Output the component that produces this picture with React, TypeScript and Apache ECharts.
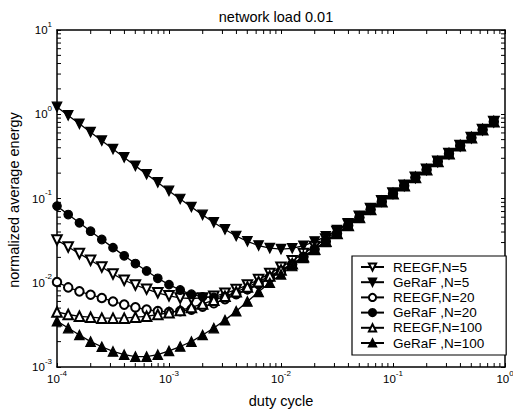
import React, { useEffect, useRef } from 'react';
import * as echarts from 'echarts';

const FONT = '"Liberation Sans", Arial, Helvetica, sans-serif';

// duty cycle sample points (10 per decade)
const dutyCycle = [
  1.0e-4, 1.259e-4, 1.585e-4, 1.995e-4, 2.512e-4, 3.162e-4, 3.981e-4, 5.012e-4, 6.31e-4, 7.943e-4,
  1.0e-3, 1.259e-3, 1.585e-3, 1.995e-3, 2.512e-3, 3.162e-3, 3.981e-3, 5.012e-3, 6.31e-3, 7.943e-3,
  1.0e-2, 1.259e-2, 1.585e-2, 1.995e-2, 2.512e-2, 3.162e-2, 3.981e-2, 5.012e-2, 6.31e-2, 7.943e-2,
  0.1, 0.1259, 0.1585, 0.1995, 0.2512, 0.3162, 0.3981, 0.5012, 0.631, 0.7943,
];

const reegf5 = [
  0.0322, 0.0266, 0.0222, 0.0185, 0.0154, 0.0127, 0.0107, 0.0094, 0.0084, 0.0076,
  0.0070, 0.0066, 0.0065, 0.0066, 0.0069, 0.0075, 0.0083, 0.0094, 0.0109, 0.0129,
  0.0153, 0.0183, 0.0222, 0.0270, 0.033, 0.0405, 0.0498, 0.0614, 0.0759, 0.0939,
  0.116, 0.144, 0.179, 0.222, 0.276, 0.342, 0.426, 0.529, 0.658, 0.819,
];
const geraf5 = [
  1.22, 0.969, 0.77, 0.612, 0.486, 0.386, 0.307, 0.244, 0.194, 0.155,
  0.123, 0.0987, 0.0792, 0.0639, 0.052, 0.0429, 0.0359, 0.031, 0.0276, 0.0257,
  0.025, 0.0256, 0.0275, 0.0308, 0.0356, 0.0421, 0.0506, 0.0615, 0.0755, 0.0931,
  0.115, 0.143, 0.178, 0.221, 0.274, 0.34, 0.424, 0.527, 0.656, 0.817,
];
const reegf20 = [
  0.0102, 0.0088, 0.0079, 0.0072, 0.0066, 0.006, 0.0055, 0.0051, 0.0048, 0.0046,
  0.0045, 0.0046, 0.0048, 0.0052, 0.0057, 0.0064, 0.0073, 0.0084, 0.0098, 0.0116,
  0.0138, 0.0166, 0.0202, 0.0249, 0.0309, 0.0384, 0.0477, 0.0593, 0.0738, 0.0918,
  0.114, 0.142, 0.177, 0.22, 0.274, 0.34, 0.424, 0.527, 0.656, 0.817,
];
const geraf20 = [
  0.0812, 0.0645, 0.0514, 0.0409, 0.0326, 0.0261, 0.0209, 0.0169, 0.0138, 0.0113,
  0.0095, 0.0082, 0.0073, 0.0068, 0.0067, 0.0069, 0.0074, 0.0083, 0.0095, 0.0113,
  0.0136, 0.0165, 0.0203, 0.0251, 0.031, 0.0385, 0.0477, 0.0593, 0.0737, 0.0917,
  0.114, 0.142, 0.177, 0.22, 0.274, 0.34, 0.424, 0.527, 0.656, 0.817,
];
const reegf100 = [
  0.0045, 0.0042, 0.004, 0.0039, 0.0038, 0.0038, 0.0038, 0.0039, 0.004, 0.0042,
  0.0044, 0.0047, 0.0051, 0.0056, 0.0062, 0.0069, 0.0078, 0.0089, 0.0103, 0.012,
  0.0142, 0.0168, 0.0203, 0.025, 0.031, 0.0385, 0.0478, 0.0594, 0.0738, 0.0918,
  0.114, 0.142, 0.177, 0.22, 0.274, 0.34, 0.424, 0.527, 0.656, 0.817,
];
const geraf100 = [
  0.0035, 0.0029, 0.0024, 0.002, 0.00174, 0.00153, 0.0014, 0.00133, 0.00133, 0.0014,
  0.00155, 0.00175, 0.002, 0.0024, 0.0029, 0.0036, 0.0046, 0.006, 0.0078, 0.01,
  0.0126, 0.0158, 0.0197, 0.0246, 0.0306, 0.0382, 0.0475, 0.0591, 0.0736, 0.0916,
  0.114, 0.142, 0.177, 0.22, 0.274, 0.34, 0.424, 0.527, 0.656, 0.817,
];

const seriesNames = ['REEGF,N=5', 'GeRaF ,N=5', 'REEGF,N=20', 'GeRaF ,N=20', 'REEGF,N=100', 'GeRaF ,N=100'];
const titleText = 'network load 0.01';
const xName = 'duty cycle';
const yName = 'normalized average energy';

const X_MIN = 1e-4, X_MAX = 1, Y_MIN = 1e-3, Y_MAX = 10;

const xMinor: number[] = [];
for (let e = -4; e < 0; e++) for (let m = 2; m <= 9; m++) xMinor.push(m * Math.pow(10, e));
const yMinor: number[] = [];
for (let e = -3; e < 1; e++) for (let m = 2; m <= 9; m++) yMinor.push(m * Math.pow(10, e));

const TICK = 4;

export default function App() {
  const ref = useRef<HTMLDivElement>(null);
  useEffect(() => {
    const chart = echarts.init(ref.current as HTMLDivElement, null, { renderer: 'svg' });

    const supFmt = (v: number) => {
      const e = Math.round(Math.log10(v));
      return `{b|10}{s|${e}}`;
    };
    const rich = {
      b: { fontFamily: FONT, fontSize: 11.5, color: '#000', lineHeight: 20 },
      s: { fontFamily: FONT, fontSize: 8, color: '#000', verticalAlign: 'top' },
    };
    const axisLine = { show: true, onZero: false, lineStyle: { color: '#000', width: 1.5 } };
    const axisTick = { show: true, inside: true, length: TICK, lineStyle: { color: '#000', width: 1 } };

    const mk = (name: string, vals: number[], symbol: string, rotate: number, size: number) => ({
      type: 'line',
      name,
      data: dutyCycle.map((d, i) => [d, vals[i]]),
      symbol,
      symbolSize: size,
      symbolRotate: rotate,
      showSymbol: true,
      showAllSymbol: true,
      lineStyle: { color: '#000', width: 1.3 },
      itemStyle: { color: '#000', borderColor: '#000', borderWidth: 1.2 },
      emphasis: { disabled: true },
      silent: true,
    });

    const tickLine = (x1: number, y1: number, x2: number, y2: number) => ({
      type: 'line',
      shape: { x1, y1, x2, y2 },
      style: { stroke: '#000', lineWidth: 1 },
    });

    const option: any = {
      animation: false,
      backgroundColor: '#fff',
      grid: { left: 57, top: 30, width: 448, height: 337, containLabel: false, outerBoundsMode: 'none' },
      xAxis: [
        {
          type: 'log', logBase: 10, min: X_MIN, max: X_MAX, position: 'bottom',
          axisLine, axisTick, splitLine: { show: false },
          axisLabel: { formatter: supFmt, rich, margin: 2 },
        },
        {
          type: 'log', logBase: 10, min: X_MIN, max: X_MAX, position: 'top',
          axisLine, axisTick, splitLine: { show: false }, axisLabel: { show: false },
        },
      ],
      yAxis: [
        {
          type: 'log', logBase: 10, min: Y_MIN, max: Y_MAX, position: 'left',
          axisLine, axisTick, splitLine: { show: false },
          axisLabel: { formatter: supFmt, rich, margin: 5 },
        },
        {
          type: 'log', logBase: 10, min: Y_MIN, max: Y_MAX, position: 'right',
          axisLine, axisTick, splitLine: { show: false }, axisLabel: { show: false },
        },
      ],
      legend: {
        orient: 'vertical', left: 352, top: 256,
        padding: [4, 22, 5, 8],
        itemWidth: 23, itemHeight: 9, itemGap: 1.2,
        backgroundColor: '#fff', borderColor: '#000', borderWidth: 1.2,
        textStyle: { fontFamily: FONT, fontSize: 13.5, color: '#000', lineHeight: 14, padding: [0, 0, 0, 4] },
        data: seriesNames,
        selectedMode: false,
      },
      graphic: [
        { type: 'text', x: 276, y: 17, style: { text: titleText, font: `14.5px ${FONT}`, fill: '#000', textAlign: 'center', textVerticalAlign: 'middle' } },
        { type: 'text', x: 281, y: 401, style: { text: xName, font: `14.5px ${FONT}`, fill: '#000', textAlign: 'center', textVerticalAlign: 'middle' } },
        { type: 'text', x: 14, y: 200, rotation: Math.PI / 2, style: { text: yName, font: `14.5px ${FONT}`, fill: '#000', textAlign: 'center', textVerticalAlign: 'middle' } },
      ],
      series: [
        mk(seriesNames[0], reegf5, 'emptyTriangle', 180, 9.5),
        mk(seriesNames[1], geraf5, 'triangle', 180, 9.5),
        mk(seriesNames[2], reegf20, 'emptyCircle', 0, 8.5),
        mk(seriesNames[3], geraf20, 'circle', 0, 8.5),
        mk(seriesNames[4], reegf100, 'emptyTriangle', 0, 9.5),
        mk(seriesNames[5], geraf100, 'triangle', 0, 9.5),
        {
          type: 'custom', name: 'xMinorTicks', silent: true, clip: false,
          data: xMinor.map((v) => [v, 1]),
          renderItem: (_p: any, api: any) => {
            const x = api.value(0);
            const b = api.coord([x, Y_MIN]);
            const t = api.coord([x, Y_MAX]);
            return { type: 'group', children: [tickLine(b[0], b[1], b[0], b[1] - TICK), tickLine(t[0], t[1], t[0], t[1] + TICK)] };
          },
        },
        {
          type: 'custom', name: 'yMinorTicks', silent: true, clip: false,
          data: yMinor.map((v) => [0.01, v]),
          renderItem: (_p: any, api: any) => {
            const y = api.value(1);
            const l = api.coord([X_MIN, y]);
            const r = api.coord([X_MAX, y]);
            return { type: 'group', children: [tickLine(l[0], l[1], l[0] + TICK, l[1]), tickLine(r[0], r[1], r[0] - TICK, r[1])] };
          },
        },
      ],
    };
    chart.setOption(option);
    return () => chart.dispose();
  }, []);
  return <div ref={ref} style={{ position: 'fixed', left: 0, top: 0, width: 513, height: 413, background: '#fff' }} />;
}
